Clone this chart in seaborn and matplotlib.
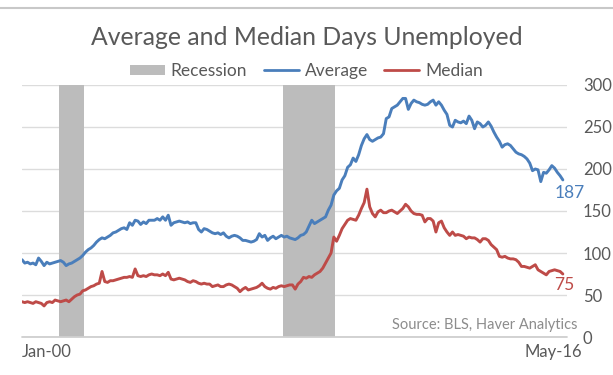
import numpy as np
import pandas as pd
import matplotlib
matplotlib.use("Agg")
import matplotlib.pyplot as plt
import matplotlib.transforms as mtransforms
from matplotlib.patches import Patch
from matplotlib.lines import Line2D
import seaborn as sns

# Average days unemployed, monthly Jan 2000 - May 2016
average = [
    92, 88, 89, 87, 88, 86, 94, 90, 85, 89, 87, 88,
    89, 90, 91, 89, 85, 87, 88, 90, 92, 94, 97, 101,
    104, 106, 109, 113, 116, 118, 117, 119, 121, 124, 125, 127,
    129, 130, 128, 136, 133, 139, 138, 134, 137, 135, 139, 139,
    139, 141, 139, 143, 139, 145, 133, 136, 137, 138, 137, 136,
    137, 135, 136, 136, 128, 125, 129, 128, 126, 124, 123, 124,
    122, 124, 120, 118, 120, 121, 120, 118, 115, 115, 114, 113,
    114, 116, 123, 119, 121, 115, 118, 120, 117, 119, 121, 119,
    120, 118, 117, 116, 118, 121, 122, 125, 132, 139, 135, 137,
    139, 141, 143, 151, 157, 169, 174, 177, 187, 192, 202, 205,
    213, 209, 217, 228, 236, 241, 235, 233, 235, 237, 238, 242,
    260, 262, 272, 274, 276, 280, 284, 284, 271, 278, 282, 280,
    279, 277, 276, 277, 280, 282, 276, 280, 276, 270, 265, 252,
    250, 258, 256, 255, 257, 254, 263, 258, 248, 256, 254, 250,
    252, 256, 251, 244, 238, 233, 226, 229, 230, 228, 224, 220,
    218, 217, 215, 212, 207, 198, 200, 199, 185, 196, 195, 199,
    204, 201, 196, 192, 187,
]

# Median days unemployed, same months
median = [
    42, 41, 42, 41, 40, 42, 41, 40, 37, 41, 42, 41,
    44, 43, 42, 43, 44, 42, 45, 48, 50, 51, 55, 56,
    58, 60, 61, 63, 64, 78, 66, 65, 67, 67, 68, 69,
    70, 71, 71, 72, 71, 81, 73, 72, 73, 72, 74, 75,
    74, 74, 73, 75, 73, 77, 69, 68, 69, 70, 69, 68,
    66, 65, 67, 66, 64, 63, 64, 63, 63, 60, 61, 62,
    60, 60, 62, 63, 62, 60, 58, 54, 57, 59, 56, 57,
    58, 59, 61, 64, 60, 58, 57, 59, 58, 60, 61, 60,
    61, 62, 62, 57, 63, 66, 71, 70, 72, 71, 74, 76,
    78, 82, 88, 94, 100, 119, 114, 121, 129, 134, 139, 141,
    140, 139, 145, 153, 160, 176, 155, 147, 143, 149, 151, 148,
    148, 150, 151, 149, 147, 150, 153, 158, 155, 150, 147, 146,
    146, 145, 137, 141, 141, 138, 125, 136, 138, 130, 125, 121,
    125, 121, 122, 121, 120, 117, 119, 118, 118, 116, 113, 117,
    117, 115, 110, 107, 104, 96, 95, 96, 94, 93, 93, 92,
    89, 84, 84, 83, 82, 84, 86, 80, 78, 76, 74, 78,
    79, 80, 79, 78, 75,
]

recessions = [("2001-03", "2001-11"), ("2007-12", "2009-06")]
tick_labels = ["Jan-00", "May-16"]
title = "Average and Median Days Unemployed"
source = "Source: BLS, Haver Analytics"

blue = "#4a7ebb"
red = "#be4b48"
grey = "#bcbcbc"
text_col = "#595959"

months = pd.date_range("2000-01-01", periods=len(average), freq="MS")
df = pd.DataFrame({"month": np.arange(len(months)),
                   "Average": average, "Median": median})
long = df.melt(id_vars="month", var_name="series", value_name="days")

sns.set_theme(style="white")
plt.rcParams["font.family"] = ["Lato", "DejaVu Sans"]

fig = plt.figure(figsize=(6.13, 3.75), dpi=100)
ax = fig.add_axes([22 / 613, 1 - 337 / 375, 545 / 613, 252 / 375])

# recession shading
for start, end in recessions:
    i0 = months.get_loc(pd.Timestamp(start))
    i1 = months.get_loc(pd.Timestamp(end))
    ax.axvspan(i0 - 0.5, i1 + 0.5, color=grey, lw=0, zorder=1)

sns.lineplot(data=long, x="month", y="days", hue="series",
             palette={"Average": blue, "Median": red},
             lw=2.1, ax=ax, legend=False, zorder=3)

ax.set_xlim(0, 197.5)
ax.set_ylim(0, 300)
ax.set_yticks(range(0, 301, 50))
ax.yaxis.tick_right()
ax.tick_params(axis="y", length=0, pad=11.5, labelsize=12, labelcolor=text_col)
ax.grid(axis="y", color="#dcdcdc", lw=1)
ax.set_axisbelow(True)
for s in ax.spines.values():
    s.set_visible(False)
ax.axhline(0, color="#cfcfcf", lw=1.3, zorder=2, clip_on=False)
ax.set_xlabel("")
ax.set_ylabel("")

# x tick labels at first and last month
ax.set_xticks([0, len(months) - 1])
ax.set_xticklabels(tick_labels)
ax.tick_params(axis="x", length=0, pad=5, labelsize=12, labelcolor=text_col)
xl = ax.get_xticklabels()
xl[0].set_ha("left")
xl[1].set_transform(xl[1].get_transform() +
                    mtransforms.ScaledTranslation(-9.5 / 100, 0, fig.dpi_scale_trans))

# end labels
last = len(months) - 1
ax.annotate(f"{average[-1]}", xy=(last, average[-1]), xytext=(-6, -9.5),
            textcoords="offset points", ha="left", va="center",
            color=blue, fontsize=12.5, zorder=4)
ax.annotate(f"{median[-1]}", xy=(last, median[-1]), xytext=(-6, -8),
            textcoords="offset points", ha="left", va="center",
            color=red, fontsize=12.5, zorder=4)

# title, legend, source
fig.text(0.5, 1 - 45 / 375, title, ha="center", va="baseline",
         fontsize=17.8, color=text_col)
handles = [Patch(facecolor=grey, edgecolor="none", label="Recession"),
           Line2D([], [], color=blue, lw=2, label="Average"),
           Line2D([], [], color=red, lw=2, label="Median")]
fig.legend(handles=handles, loc="center", bbox_to_anchor=(0.5, 1 - 71 / 375),
           ncol=3, frameon=False, fontsize=12.5, labelcolor=text_col,
           handlelength=2.0, handleheight=0.55, handletextpad=0.35,
           columnspacing=0.95, borderpad=0, borderaxespad=0)
fig.text(577 / 613, 1 - 325 / 375, source, ha="right", va="center",
         fontsize=10.5, color="#8c8c8c")

# thin rule across the top
fig.add_artist(Line2D([0, 1], [1 - 8 / 375] * 2, transform=fig.transFigure,
                      color="#c8c8c8", lw=1.5))

fig.savefig("out.png", dpi=100)
